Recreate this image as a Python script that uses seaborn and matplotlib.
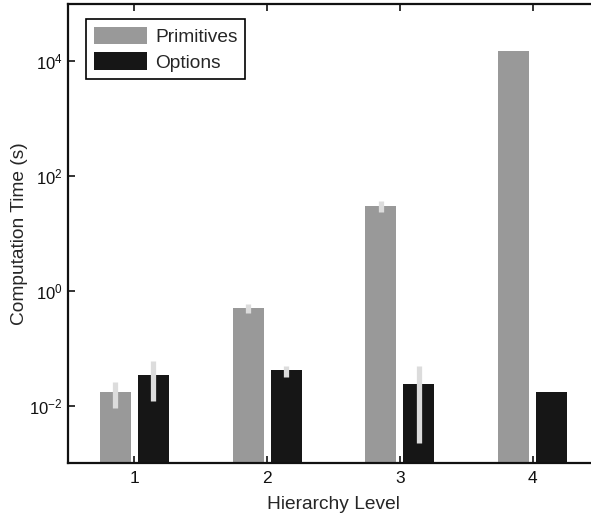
import matplotlib
matplotlib.use("Agg")
import matplotlib.pyplot as plt
import matplotlib.ticker as mticker
import seaborn as sns
import pandas as pd

# values (log scale, seconds)
levels = ["1", "2", "3", "4"]
primitives = [0.017, 0.50, 30.0, 15000.0]
options = [0.034, 0.042, 0.024, 0.017]
# error bar ends (low, high); None where no bar is drawn
prim_lo = [0.009, 0.41, 24.0, None]
prim_hi = [0.026, 0.59, 36.5, None]
opt_lo = [0.012, 0.032, 0.0022, None]
opt_hi = [0.059, 0.050, 0.050, None]

sns.set_style("ticks")
plt.rcParams["font.family"] = ["Liberation Sans", "DejaVu Sans"]
plt.rcParams["mathtext.fontset"] = "custom"
plt.rcParams["mathtext.rm"] = "Liberation Sans"
plt.rcParams["mathtext.it"] = "Liberation Sans:italic"

df = pd.DataFrame({
    "level": levels * 2,
    "time": primitives + options,
    "method": ["Primitives"] * 4 + ["Options"] * 4,
})

fig = plt.figure(figsize=(5.91, 5.17), dpi=100)
ax = fig.add_axes([68 / 591, 54 / 517, 531 / 591, 459 / 517])

sns.barplot(data=df, x="level", y="time", hue="method",
            palette={"Primitives": "#999999", "Options": "#161616"},
            width=0.572, gap=0.18, errorbar=None, linewidth=0,
            saturation=1, ax=ax)
ax.set_yscale("log")

# light grey error bars at the bar centres
n = len(levels)
bars = ax.patches[:2 * n]
for i in range(n):
    for j, (lo, hi) in enumerate([(prim_lo, prim_hi), (opt_lo, opt_hi)]):
        if lo[i] is None:
            continue
        p = bars[j * n + i]
        xc = p.get_x() + p.get_width() / 2
        ax.vlines(xc, lo[i], hi[i], color="#dcdcdc", lw=3.8, zorder=3)

ax.set_xlim(-0.5, 3.5)
ax.set_ylim(1e-3, 1e5)
ax.set_yticks([1e-2, 1e0, 1e2, 1e4])
ax.yaxis.set_major_formatter(mticker.LogFormatterMathtext())
ax.yaxis.set_minor_locator(mticker.NullLocator())

ax.tick_params(direction="in", top=True, right=False, labelsize=12.5,
               length=5, width=1.2, colors="#111111")
ax.tick_params(axis="x", pad=6)
ax.tick_params(axis="y", labelsize=12, pad=4)
for s in ["left", "bottom", "top"]:
    ax.spines[s].set_linewidth(1.6)
    ax.spines[s].set_color("#111111")
ax.spines["right"].set_visible(False)

ax.set_xlabel("Hierarchy Level", fontsize=13.8, labelpad=7)
ax.set_ylabel("Computation Time (s)", fontsize=13.8, labelpad=1)

h, l = ax.get_legend_handles_labels()
leg = ax.legend(h, l, loc="upper left", bbox_to_anchor=(0.034, 0.967),
                borderaxespad=0, fontsize=13.8, handlelength=2.8,
                handleheight=1.0, labelspacing=0.34, handletextpad=0.4,
                borderpad=0.4, fancybox=False, framealpha=1)
leg.get_frame().set_edgecolor("black")
leg.get_frame().set_linewidth(1.2)

fig.savefig("out.png", dpi=100)
